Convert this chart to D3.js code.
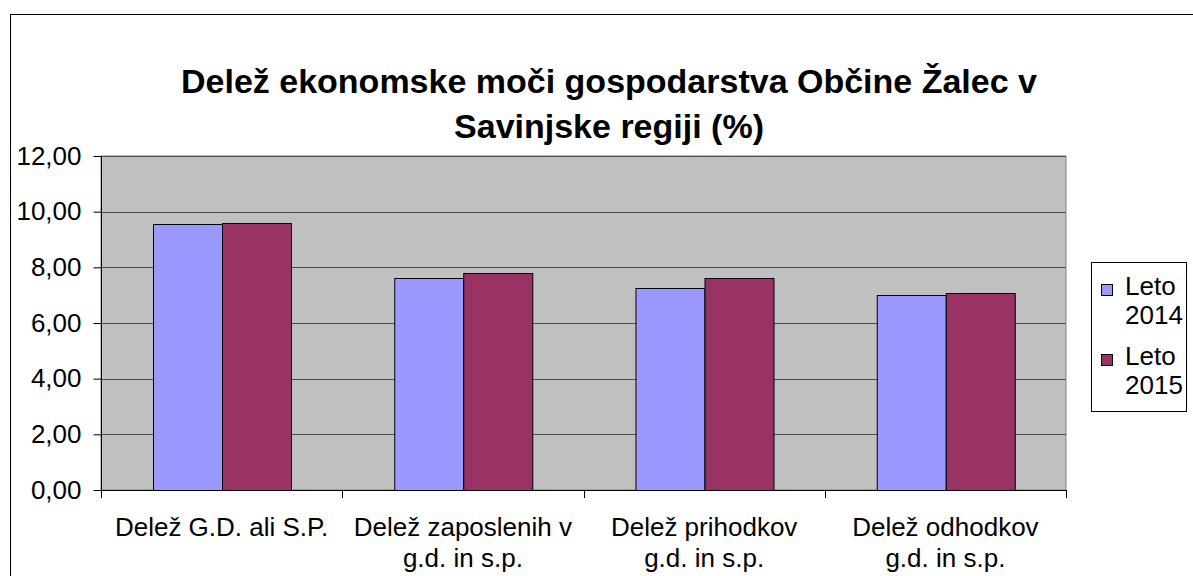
<!DOCTYPE html>
<html>
<head>
<meta charset="utf-8">
<script src="https://cdn.jsdelivr.net/npm/d3@7"></script>
<style>
	body { margin: 0; background: #fff; }
	text { font-family: "Liberation Sans", Arial, sans-serif; fill: #000; }
</style>
</head>
<body>
<div id="chart"></div>
<script>
// ---------------- data ----------------
var categories = [
	['Delež G.D. ali S.P.'],
	['Delež zaposlenih v', 'g.d. in s.p.'],
	['Delež prihodkov', 'g.d. in s.p.'],
	['Delež odhodkov', 'g.d. in s.p.']
];
var seriesNames = [['Leto', '2014'], ['Leto', '2015']];
var values2014 = [9.54, 7.60, 7.26, 7.02];
var values2015 = [9.58, 7.78, 7.60, 7.06];
var yTicks = [0, 2, 4, 6, 8, 10, 12];
var titleLines = ['Delež ekonomske moči gospodarstva Občine Žalec v', 'Savinjske regiji (%)'];

var colors = ['#9999FF', '#993366'];

var width = 1193, height = 576;
var plot = { left: 101, top: 156, right: 1066, bottom: 490 };

var svg = d3.select('#chart').append('svg')
	.attr('width', width)
	.attr('height', height);

// outer chart border (runs off the picture right/bottom)
svg.append('rect')
	.attr('x', 10.5).attr('y', 14.5)
	.attr('width', 1300).attr('height', 700)
	.attr('fill', '#fff')
	.attr('stroke', '#000');

var x = d3.scaleBand()
	.domain(d3.range(categories.length))
	.range([plot.left, plot.right]);

var x1 = d3.scaleBand()
	.domain([0, 1])
	.range([0, x.bandwidth()])
	.paddingOuter(0.75)
	.paddingInner(0);

var y = d3.scaleLinear()
	.domain([0, 12])
	.range([plot.bottom, plot.top]);

// plot area
svg.append('rect')
	.attr('x', plot.left).attr('y', plot.top)
	.attr('width', plot.right - plot.left)
	.attr('height', plot.bottom - plot.top)
	.attr('fill', '#C0C0C0')
	.attr('stroke', '#808080');

// gridlines
svg.append('g').selectAll('line')
	.data(yTicks.filter(function (d) { return d > 0; }))
	.enter().append('line')
	.attr('x1', plot.left).attr('x2', plot.right)
	.attr('y1', function (d) { return Math.round(y(d)) + 0.5; })
	.attr('y2', function (d) { return Math.round(y(d)) + 0.5; })
	.attr('stroke', '#4d4d4d');

// bars
var data = categories.map(function (c, i) { return [values2014[i], values2015[i]]; });
var groups = svg.append('g').selectAll('g')
	.data(data).enter().append('g')
	.attr('transform', function (d, i) { return 'translate(' + x(i) + ',0)'; });

groups.selectAll('rect')
	.data(function (d) { return d; })
	.enter().append('rect')
	.attr('x', function (d, i) { return Math.round(x1(i)) + 0.5; })
	.attr('y', function (d) { return Math.round(y(d)) + 0.5; })
	.attr('width', Math.round(x1.bandwidth()))
	.attr('height', function (d) { return Math.round(y(0)) - Math.round(y(d)); })
	.attr('fill', function (d, i) { return colors[i]; })
	.attr('stroke', '#000');

// y axis
var yAxis = d3.axisLeft(y)
	.tickValues(yTicks)
	.tickSize(8)
	.tickPadding(12)
	.tickFormat(function (d) { return d3.format('.2f')(d).replace('.', ','); });

var gy = svg.append('g')
	.attr('transform', 'translate(' + (plot.left + 0.5) + ',0)')
	.call(yAxis);
gy.select('.domain').attr('stroke', '#000').attr('d', 'M0,' + plot.top + 'V' + plot.bottom);
gy.selectAll('.tick line').attr('stroke', '#000');
gy.selectAll('text')
	.style('font-family', '"Liberation Sans", Arial, sans-serif')
	.style('font-size', '26px')
	.attr('fill', '#000');

// x axis line + ticks at band boundaries
svg.append('line')
	.attr('x1', plot.left).attr('x2', plot.right)
	.attr('y1', plot.bottom + 0.5).attr('y2', plot.bottom + 0.5)
	.attr('stroke', '#000');

svg.append('g').selectAll('line')
	.data(d3.range(categories.length + 1))
	.enter().append('line')
	.attr('x1', function (d) { return Math.round(plot.left + d * x.bandwidth()) + 0.5; })
	.attr('x2', function (d) { return Math.round(plot.left + d * x.bandwidth()) + 0.5; })
	.attr('y1', plot.bottom)
	.attr('y2', plot.bottom + 8)
	.attr('stroke', '#000');

// category labels
var catLabels = svg.append('g').selectAll('text')
	.data(categories).enter().append('text')
	.attr('x', function (d, i) { return x(i) + x.bandwidth() / 2; })
	.attr('y', 536)
	.attr('text-anchor', 'middle')
	.style('font-size', '26px');

catLabels.selectAll('tspan')
	.data(function (d) { return d; })
	.enter().append('tspan')
	.attr('x', function () { return d3.select(this.parentNode).attr('x'); })
	.attr('dy', function (d, i) { return i ? 31 : 0; })
	.text(function (d) { return d; });

// title
svg.append('g').selectAll('text')
	.data(titleLines).enter().append('text')
	.attr('x', 609)
	.attr('y', function (d, i) { return 93 + i * 45; })
	.attr('text-anchor', 'middle')
	.style('font-size', '34px')
	.style('font-weight', 'bold')
	.text(function (d) { return d; });

// legend
var legend = svg.append('g');
legend.append('rect')
	.attr('x', 1091.5).attr('y', 262.5)
	.attr('width', 95).attr('height', 149)
	.attr('fill', '#fff')
	.attr('stroke', '#000');

var items = legend.selectAll('g.item')
	.data(seriesNames).enter().append('g')
	.attr('class', 'item')
	.attr('transform', function (d, i) { return 'translate(0,' + (i * 70) + ')'; });

items.append('rect')
	.attr('x', 1101.5).attr('y', 284.5)
	.attr('width', 11).attr('height', 11)
	.attr('fill', function (d, i) { return colors[i]; })
	.attr('stroke', '#000');

items.append('text')
	.attr('x', 1125)
	.attr('y', 295)
	.style('font-size', '26px')
	.selectAll('tspan')
	.data(function (d) { return d; })
	.enter().append('tspan')
	.attr('x', 1125)
	.attr('dy', function (d, i) { return i ? 29 : 0; })
	.text(function (d) { return d; });
</script>
</body>
</html>
